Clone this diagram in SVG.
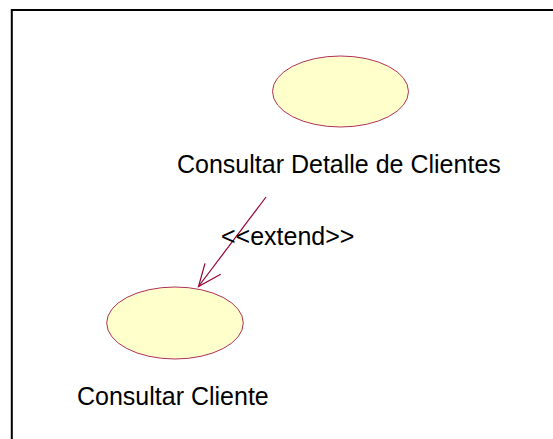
<svg xmlns="http://www.w3.org/2000/svg" width="553" height="439" viewBox="0 0 553 439">
<style>
.uc{fill:#ffffcc;stroke:#b0305a;stroke-width:1}
.lbl{font-family:"Liberation Sans",Arial,sans-serif;font-size:25px;fill:#000}
.conn{stroke:#990033;stroke-width:1.2;fill:none}
</style>
<rect width="553" height="439" fill="#fff"/>
<path d="M11.8,439 V10 H553" fill="none" stroke="#000" stroke-width="2"/>
<g id="node-detalle">
<ellipse class="uc" cx="340.5" cy="91.5" rx="68" ry="35.5"/>
<text class="lbl" x="177" y="172.5">Consultar Detalle de Clientes</text>
</g>
<g id="node-cliente">
<ellipse class="uc" cx="175" cy="323" rx="68.3" ry="36"/>
<text class="lbl" x="77" y="405">Consultar Cliente</text>
</g>
<g id="connectors">
<path class="conn" d="M266,197 L198.5,286.5"/>
<path class="conn" d="M205,263.3 L198.5,286.5 L220.7,274.3"/>
<text class="lbl" x="221" y="245">&lt;&lt;extend&gt;&gt;</text>
</g>
</svg>
